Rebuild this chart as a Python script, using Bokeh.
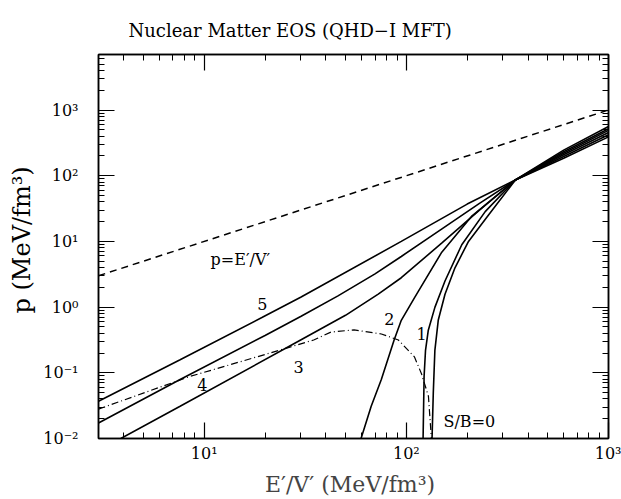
import math
from bokeh.plotting import figure
from bokeh.models import Range1d, LogAxis, FixedTicker, Title, ColumnDataSource
from bokeh.core.properties import value
from bokeh.embed import file_html
from bokeh.resources import INLINE

# ---------------- data ----------------
title_text = "Nuclear Matter EOS (QHD\u2212I MFT)"
x_label = "E\u2032/V\u2032  (MeV/fm\u00b3)"
y_label = "p  (MeV/fm\u00b3)"

x_ticks = [10, 100, 1000]
x_tick_labels = ["10\u00b9", "10\u00b2", "10\u00b3"]
y_ticks = [0.01, 0.1, 1, 10, 100, 1000]
y_tick_labels = ["10\u207b\u00b2", "10\u207b\u00b9", "10\u2070", "10\u00b9", "10\u00b2", "10\u00b3"]

# p = E'/V'
ideal_x = [3, 1000]
ideal_p = [3, 1000]

curve5_x = [3, 7.6, 19.4, 30, 94.4, 200, 346, 600, 1000]
curve5_p = [0.037, 0.158, 0.70, 1.41, 10.0, 37, 86, 185, 390]

curve4_x = [3, 7.6, 20, 30, 45.9, 70, 94.4, 150, 230, 346, 600, 1000]
curve4_p = [0.0172, 0.079, 0.37, 0.72, 1.48, 3.2, 5.9, 15.5, 38, 86, 196, 420]

curve3_x = [3.87, 7.6, 30, 50, 72.6, 94.4, 150, 230, 346, 600, 1000]
curve3_p = [0.01, 0.031, 0.315, 0.75, 1.58, 2.8, 9.5, 30, 86, 208, 455]

curve2_x = [59.7, 67, 75.2, 87, 94.4, 110, 149, 210, 346, 600, 1000]
curve2_p = [0.01, 0.031, 0.079, 0.316, 0.63, 1.41, 6.7, 24, 86, 220, 490]

curve1_x = [121, 122.4, 124.4, 128.3, 138.4, 155.3, 188, 245.5, 346, 600, 1000]
curve1_p = [0.01, 0.088, 0.22, 0.44, 0.99, 2.5, 8.9, 28.4, 86, 232, 520]

curve0_x = [134, 135.9, 138.4, 143.8, 155.3, 174, 203, 255, 346, 600, 1000]
curve0_p = [0.01, 0.049, 0.22, 0.63, 1.57, 3.97, 10, 25.2, 86, 245, 560]

# liquid-gas boundary (dash-dot)
coex_x = [3, 8.5, 20, 34.8, 42.4, 55.1, 75.2, 91.3, 109.6, 118.8, 128.6, 133]
coex_p = [0.028, 0.088, 0.19, 0.316, 0.417, 0.45, 0.39, 0.316, 0.175, 0.097, 0.044, 0.01]

label_text = ["5", "4", "3", "2", "1", "S/B=0", "p=E\u2032/V\u2032"]
label_x = [19.4, 9.8, 29.3, 82.4, 118.8, 205, 15.1]
label_p = [1.1, 0.066, 0.124, 0.65, 0.39, 0.0184, 5.25]

# ---------------- figure ----------------
FONT = "DejaVu Serif"

p = figure(width=621, height=499, x_axis_type="log", y_axis_type="log",
           x_range=Range1d(3, 1000), y_range=Range1d(0.01, 7000),
           output_backend="svg", toolbar_location=None,
           min_border_left=98, min_border_right=13,
           min_border_top=54, min_border_bottom=57)
p.grid.visible = False
p.outline_line_color = "black"
p.outline_line_width = 1.5
p.background_fill_color = "white"
p.border_fill_color = "white"

p.title.text = title_text
p.title.align = "left"
p.title.offset = 30
p.title.standoff = 28
p.title.text_font = FONT
p.title.text_font_style = "normal"
p.title.text_font_size = "18px"
p.title.text_color = "black"

x_minor = [m * 10 ** k for k in range(0, 4) for m in range(1, 10)]
y_minor = [m * 10.0 ** k for k in range(-2, 4) for m in range(1, 10)]


def style_axis(ax, ticks, minors, labels, show):
    ax.ticker = FixedTicker(ticks=ticks, minor_ticks=minors)
    ax.major_tick_in = 16
    ax.major_tick_out = 0
    ax.minor_tick_in = 6
    ax.minor_tick_out = 0
    ax.major_tick_line_width = 1.2
    ax.minor_tick_line_width = 1.0
    ax.axis_line_width = 1.5
    ax.axis_line_color = "black"
    ax.major_tick_line_color = "black"
    ax.minor_tick_line_color = "black"
    ax.major_label_overrides = dict(zip(ticks, labels))
    ax.major_label_text_font = FONT
    ax.major_label_text_font_size = "16px"
    if show:
        ax.major_label_text_color = "black"
    else:
        ax.major_label_text_color = None
        ax.major_label_standoff = 0


style_axis(p.xaxis[0], x_ticks, x_minor, x_tick_labels, True)
style_axis(p.yaxis[0], y_ticks, y_minor, y_tick_labels, True)
p.xaxis[0].major_label_standoff = 5
p.yaxis[0].major_label_standoff = 20
p.xaxis[0].axis_label = x_label
p.xaxis[0].axis_label_text_font = FONT
p.xaxis[0].axis_label_text_font_style = "normal"
p.xaxis[0].axis_label_text_font_size = "22px"
p.xaxis[0].axis_label_standoff = 6

top_ax = LogAxis()
style_axis(top_ax, x_ticks, x_minor, x_tick_labels, False)
p.add_layout(top_ax, "above")
right_ax = LogAxis()
style_axis(right_ax, y_ticks, y_minor, y_tick_labels, False)
p.add_layout(right_ax, "right")

p.add_layout(Title(text=y_label, align="left", offset=125, standoff=10,
                   text_font=FONT, text_font_style="normal",
                   text_font_size="24px", text_color="black"), "left")

solid = dict(line_color="black", line_width=1.6)
for cx, cp in [(curve5_x, curve5_p), (curve4_x, curve4_p), (curve3_x, curve3_p),
               (curve2_x, curve2_p), (curve1_x, curve1_p), (curve0_x, curve0_p)]:
    p.line(cx, cp, **solid)

p.line(ideal_x, ideal_p, line_color="black", line_width=1.5, line_dash="7 5")
p.line(coex_x, coex_p, line_color="black", line_width=1.2, line_dash="7 3 1 3")

src = ColumnDataSource(dict(x=label_x, y=label_p, t=label_text))
p.text(x="x", y="y", text="t", source=src, text_font=value(FONT),
       text_font_size="16px", text_align="center", text_baseline="middle",
       text_color="black")

open("out.html", "w").write(file_html(p, INLINE))
